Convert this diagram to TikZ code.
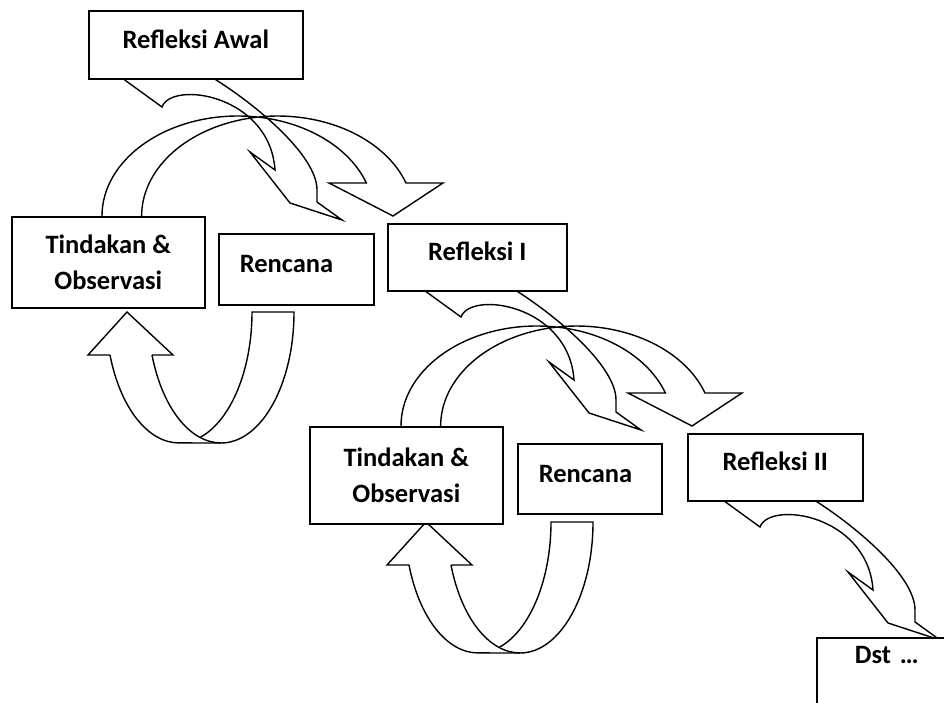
\documentclass[tikz,border=0pt]{standalone}
\usepackage{fontspec}
\setmainfont{Carlito}
\usetikzlibrary{positioning}

\tikzset{
  box/.style={draw, fill=white, line width=1.6pt, anchor=north west,
    inner sep=0pt, font=\fontsize{26.5}{36}\selectfont\bfseries},
  oneline/.style={text height=19pt, text depth=12pt},
  blk/.style={draw, line width=1.4pt},
}

\begin{document}
\begin{tikzpicture}[x=1pt, y=-1pt]
    \useasboundingbox (0,0) rectangle (944,703);
    \clip (0,0) rectangle (944,703);

    % turning arrows out of each Refleksi box
    \foreach \dx/\dy in {0/0, 299/210, 598/420} {
        \draw[blk, shift={(\dx,\dy)}] (122,78) -- (162,107)
            .. controls (172,80) and (270,95) .. (275,170)
            -- (250,152) -- (290,203) -- (342,220) -- (317,202) -- (317,190)
            .. controls (317,155) and (255,104) .. (213,78);
    }

    % one cycle: arc over the top, loop underneath
    \foreach \dx/\dy in {0/0, 299/210} {
        \begin{scope}[shift={(\dx,\dy)}]
            \draw[blk] (102,216) arc[start angle=180, end angle=340.7, x radius=136, y radius=100]
                -- (329,183) -- (393,216) -- (443,183) -- (406,183)
                arc[start angle=340.7, end angle=180, x radius=136, y radius=100];
            \draw[blk] (110,355) arc[start angle=160.8, end angle=90, x radius=73, y radius=131]
                -- (221,443) arc[start angle=90, end angle=0, x radius=73, y radius=131]
                -- (252,312) arc[start angle=0, end angle=72.8, x radius=73, y radius=131];
            \draw[blk] (152,355) arc[start angle=160.8, end angle=90, x radius=73, y radius=131];
            \draw[blk] (110,355) -- (88,355) -- (127,312) -- (173,355) -- (152,355);
        \end{scope}
    }

    % boxes
    \node[box, oneline, minimum width=214pt, minimum height=68pt] (awal) at (88,10) {Refleksi Awal};
    \node[box, align=center, minimum width=193pt, minimum height=91pt] (tind1) at (11,216) {Tindakan \&\\Observasi};
    \node[box, oneline, align=left, text width=113pt, inner xsep=21pt, minimum height=71pt] (renc1) at (218,233) {Rencana};
    \node[box, oneline, minimum width=179pt, minimum height=67pt] (ref1) at (387,223) {Refleksi I};

    \node[box, align=center, minimum width=193pt, minimum height=97pt] (tind2) at (309,426) {Tindakan \&\\Observasi};
    \node[box, oneline, align=left, text width=102pt, inner xsep=21pt, minimum height=70pt] (renc2) at (517,443) {Rencana};
    \node[box, oneline, minimum width=175pt, minimum height=67pt] (ref2) at (687,433) {Refleksi II};

    \node[box, align=left, text height=19pt, text depth=46pt, text width=80pt,
        inner xsep=38pt, inner ysep=7pt] (dst) at (816,637) {Dst …};
\end{tikzpicture}
\end{document}
